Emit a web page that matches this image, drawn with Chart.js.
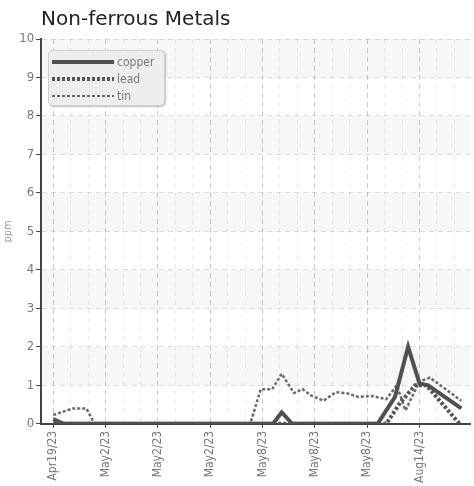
<!DOCTYPE html>
<html>
<head>
<meta charset="utf-8">
<script src="https://cdn.jsdelivr.net/npm/chart.js@4.4.1/dist/chart.umd.min.js"></script>
<style>
  body { margin: 0; background: #fff; }
  #wrap { position: relative; width: 474px; height: 486px; }
  #legend {
    position: absolute; left: 48px; top: 50px; width: 115px; height: 54px;
    background: #eeeeee; border: 1px solid #cfcfcf; border-radius: 5px;
    box-shadow: 1px 1px 2px rgba(0,0,0,0.25);
    font-family: "Liberation Sans Narrow", "DejaVu Sans Condensed", sans-serif;
    font-size: 12px; color: #777;
  }
  .row { position: absolute; left: 3px; height: 14px; line-height: 14px; }
  .sample { position: absolute; left: 0; width: 62px; }
  .lbl { position: absolute; left: 65px; top: 0; }
</style>
</head>
<body>
<div id="wrap">
  <canvas id="myChart" width="474" height="486"></canvas>
  <div id="legend"></div>
</div>
<script>
// x positions are in tick steps (one step = one minor grid line)
const tickLabels = ["Apr19/23", "May2/23", "May2/23", "May2/23", "May8/23", "May8/23", "May8/23", "Aug14/23"];

const copperX = [0, 0.6, 12.6, 13.1, 13.7, 18.6, 19.6, 20.35, 21.0, 21.5, 23.4];
const copperY = [0.12, 0, 0, 0.3, 0, 0, 0.7, 2.0, 1.05, 1.0, 0.4];

const leadX = [0, 19.1, 19.9, 20.75, 21.4, 23.3];
const leadY = [0, 0, 0.55, 1.0, 1.0, 0];

const tinX = [0, 1.13, 1.9, 2.36, 11.3, 11.9, 12.55, 13.1, 13.8, 14.3, 14.8, 15.5, 16.2, 16.8, 17.5, 18.3, 19.1, 19.7, 20.2, 21.0, 21.6, 23.4];
const tinY = [0.23, 0.4, 0.4, 0, 0, 0.9, 0.9, 1.3, 0.8, 0.9, 0.73, 0.6, 0.82, 0.8, 0.7, 0.72, 0.64, 1.0, 0.35, 1.1, 1.2, 0.6];

const narrow = "'Liberation Sans Narrow', 'DejaVu Sans Condensed', sans-serif";

function toPoints(xs, ys) {
  return xs.map((x, i) => ({ x: x, y: ys[i] }));
}

let gridSteps = [];
for (let i = 0; i <= 23; i++) gridSteps.push(i);

// light bands between odd and even grid lines
const bandsPlugin = {
  id: "bands",
  beforeDraw(chart) {
    const { ctx, chartArea, scales } = chart;
    ctx.save();
    ctx.fillStyle = "#f7f7f7";
    for (let v = 1; v < 10; v += 2) {
      let top = scales.y.getPixelForValue(v + 1);
      let bottom = scales.y.getPixelForValue(v);
      ctx.fillRect(chartArea.left, top, chartArea.right - chartArea.left, bottom - top);
    }
    ctx.restore();
  },
};

const series = [
  { label: "copper", data: toPoints(copperX, copperY), color: "#505050", width: 4, dash: [] },
  { label: "lead", data: toPoints(leadX, leadY), color: "#555555", width: 4, dash: [3, 2] },
  { label: "tin", data: toPoints(tinX, tinY), color: "#6a6a6a", width: 2.5, dash: [3, 2] },
];

const chart = new Chart("myChart", {
  type: "line",
  data: {
    datasets: series.map((s) => ({
      label: s.label,
      data: s.data,
      borderColor: s.color,
      borderWidth: s.width,
      borderDash: s.dash,
      pointRadius: 0,
      tension: 0,
      fill: false,
    })),
  },
  plugins: [bandsPlugin],
  options: {
    responsive: false,
    animation: false,
    layout: { padding: { left: 0, right: 4, top: 0, bottom: 0 } },
    plugins: {
      legend: { display: false },
      tooltip: { enabled: false },
      title: {
        display: true,
        text: "Non-ferrous Metals",
        align: "start",
        fullSize: false,
        color: "#222",
        font: { family: "'DejaVu Sans', sans-serif", size: 20, weight: "normal" },
        padding: { top: 8, bottom: 7 },
      },
    },
    scales: {
      x: {
        type: "linear",
        min: -0.7,
        max: 23.9,
        afterBuildTicks: (scale) => {
          scale.ticks = gridSteps.map((v) => ({ value: v }));
        },
        ticks: {
          autoSkip: false,
          minRotation: 90,
          maxRotation: 90,
          color: "#777",
          padding: 3,
          font: { family: narrow, size: 12 },
          callback: (value) => (value % 3 === 0 ? tickLabels[value / 3] : ""),
        },
        grid: {
          color: (ctx) => (ctx.tick && ctx.tick.value % 3 === 0 ? "rgba(0,0,0,0.2)" : "rgba(0,0,0,0.07)"),
          tickColor: (ctx) => (ctx.tick && ctx.tick.value % 3 === 0 ? "#444" : "rgba(0,0,0,0)"),
          tickLength: 4,
        },
        border: { display: true, color: "#444", width: 2, dash: [5, 4] },
      },
      y: {
        min: 0,
        max: 10,
        ticks: {
          stepSize: 1,
          color: "#777",
          padding: 2,
          font: { family: narrow, size: 13 },
        },
        grid: {
          color: "rgba(0,0,0,0.13)",
          tickColor: "#444",
          tickLength: 5,
        },
        border: { display: true, color: "#444", width: 2, dash: [5, 4] },
        title: {
          display: true,
          text: "ppm",
          color: "#999",
          padding: 2,
          font: { family: narrow, size: 11 },
        },
      },
    },
  },
});

// legend box drawn in HTML, built from the datasets
let legendDiv = document.getElementById("legend");
series.forEach((s, i) => {
  let row = document.createElement("div");
  row.setAttribute("class", "row");
  row.style.top = 4 + i * 17 + "px";
  let sample = document.createElement("div");
  sample.setAttribute("class", "sample");
  sample.style.top = 7 - s.width / 2 + "px";
  sample.style.height = s.width + "px";
  if (s.dash.length) {
    sample.style.background = `repeating-linear-gradient(90deg, ${s.color} 0 ${s.dash[0]}px, transparent ${s.dash[0]}px ${s.dash[0] + s.dash[1]}px)`;
  } else {
    sample.style.background = s.color;
  }
  let lbl = document.createElement("span");
  lbl.setAttribute("class", "lbl");
  lbl.innerText = s.label;
  row.appendChild(sample);
  row.appendChild(lbl);
  legendDiv.appendChild(row);
});
</script>
</body>
</html>
